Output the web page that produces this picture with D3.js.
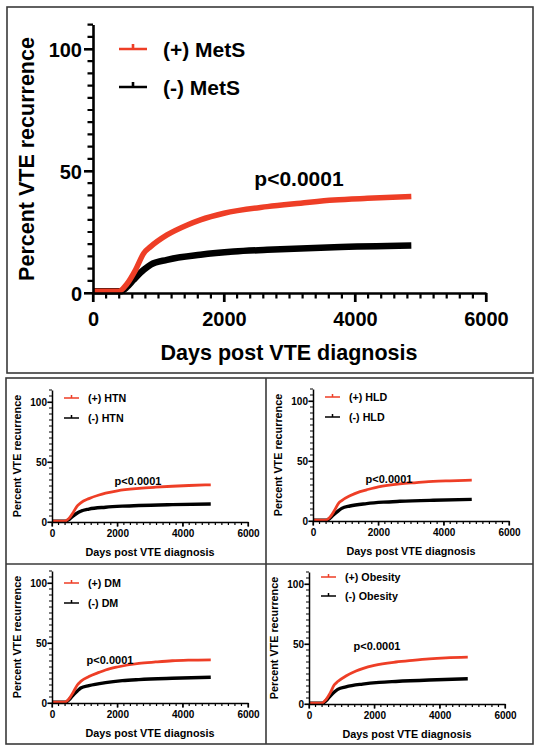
<!DOCTYPE html>
<html><head><meta charset="utf-8">
<script src="https://cdn.jsdelivr.net/npm/d3@7"></script>
<style>body{margin:0;background:#fff} svg{display:block}</style>
</head><body>
<svg id="c" width="540" height="750"></svg>
<script>
// ---------------- DATA ----------------
const xTickValues = [0, 2000, 4000, 6000];
const yTickValues = [0, 50, 100];
const yAxisTitle = "Percent VTE recurrence";
const xAxisTitle = "Days post VTE diagnosis";
const pLabel = "p<0.0001";
const groups = ["MetS", "HTN", "HLD", "DM", "Obesity"];
const legendPos = ["(+) MetS", "(+) HTN", "(+) HLD", "(+) DM", "(+) Obesity"];
const legendNeg = ["(-) MetS", "(-) HTN", "(-) HLD", "(-) DM", "(-) Obesity"];

const daysPos = [0, 390, 520, 650, 775, 880, 1130, 1440, 1640, 2000, 2660, 3170, 3680, 4190, 4860];
const daysNeg = [0, 420, 520, 620, 775, 880, 1130, 1640, 2150, 2660, 3680, 4860];

const posMetS    = [0.7, 0.7, 3.8, 9.5, 16.3, 19.0, 23.8, 27.9, 30.0, 32.7, 35.4, 36.8, 38.1, 38.8, 39.5];
const negMetS    = [0.7, 0.7, 2.5, 5.4, 9.5, 11.6, 13.6, 15.7, 17.0, 17.7, 18.8, 19.5];
const posHTN     = [0.7, 0.7, 3.0, 8.0, 13.5, 16.0, 19.5, 22.5, 24.0, 26.0, 28.0, 29.0, 29.8, 30.4, 31.0];
const negHTN     = [0.7, 0.7, 2.0, 4.5, 7.5, 9.0, 10.8, 12.3, 13.2, 13.8, 14.5, 15.0];
const posHLD     = [0.7, 0.7, 3.2, 8.5, 14.5, 17.0, 21.0, 24.5, 26.0, 28.5, 31.0, 32.0, 33.0, 33.5, 34.0];
const negHLD     = [0.7, 0.7, 2.3, 5.0, 8.5, 10.5, 12.5, 14.5, 15.7, 16.4, 17.3, 18.0];
const posDM      = [0.7, 0.7, 3.4, 9.0, 15.0, 18.0, 22.0, 25.5, 27.5, 30.0, 33.0, 34.2, 35.2, 35.7, 36.0];
const negDM      = [0.7, 0.7, 2.6, 5.8, 10.0, 12.5, 14.5, 17.0, 18.6, 19.5, 20.6, 21.5];
const posObesity = [0.7, 0.7, 3.7, 9.3, 16.0, 18.7, 23.3, 27.5, 29.5, 32.2, 35.0, 36.4, 37.6, 38.4, 39.0];
const negObesity = [0.7, 0.7, 2.6, 5.8, 10.0, 12.2, 14.3, 16.6, 18.0, 18.8, 20.0, 21.0];

const posSeries = [posMetS, posHTN, posHLD, posDM, posObesity];
const negSeries = [negMetS, negHTN, negHLD, negDM, negObesity];

// ---------------- LAYOUT ----------------
const RED = "#ee3e26";
const FONT = "'Liberation Sans', Arial, Helvetica, sans-serif";

const big = {ox: 93, ex: 486, oy: 293, k: 2.44, tick: 20, title: 21.5, leg: 21, p: 21,
  axisW: 2.6, majT: 9, minT: 5.5, tickW: 2.2, posW: 5.5, negW: 6.5,
  ytX: 27, ytY: 159, xtX: 289, xtY: 353, xlabY: 319, ylabGap: 11,
  legX1: 119, legX2: 147, legTX: 163, legY1: 49, legY2: 87, tickUp: 5,
  pX: 299, pY: 178};

function small(dx, dy, extra) {
  return Object.assign({ox: 52 + dx, ex: 248 + dx, oy: 522 + dy, k: 1.2, tick: 10, title: 10.8, leg: 10.7, p: 11,
    axisW: 1.5, majT: 4.5, minT: 3, tickW: 1.2, posW: 2.8, negW: 3.4,
    ytX: 17 + dx, ytY: 456 + dy, xtX: 150 + dx, xtY: 552 + dy, xlabY: 533 + dy, ylabGap: 5,
    legX1: 64 + dx, legX2: 79 + dx, legTX: 88 + dx, legY1: 398 + dy, legY2: 418 + dy, tickUp: 3,
    pX: 138 + dx, pY: 481 + dy}, extra || {});
}

const layouts = [
  big,
  small(0, 0),
  small(261, -1, {pX: 389, pY: 479}),
  small(0, 181, {pX: 110, pY: 660, legY1: 583, legY2: 603}),
  small(257, 182, {pX: 377, pY: 646, legY1: 577, legY2: 596})
];

const svg = d3.select("#c");
svg.append("rect").attr("width", 540).attr("height", 750).attr("fill", "#fff");

// frames
const frame = svg.append("g").attr("fill", "none").attr("stroke", "#3a3a3a").attr("stroke-width", 1.6);
frame.append("rect").attr("x", 7).attr("y", 7).attr("width", 526).attr("height", 366);
frame.append("rect").attr("x", 6).attr("y", 378).attr("width", 527).attr("height", 366);
frame.append("line").attr("x1", 266).attr("x2", 266).attr("y1", 378).attr("y2", 744);
frame.append("line").attr("x1", 6).attr("x2", 533).attr("y1", 564).attr("y2", 564);

const xMinor = d3.range(0, 6001, 200).filter(v => !xTickValues.includes(v));
const yMinor = d3.range(0, 111, 5).filter(v => !yTickValues.includes(v));

groups.forEach((grp, i) => {
  const L = layouts[i];
  const g = svg.append("g");
  const x = d3.scaleLinear().domain([0, 6000]).range([L.ox, L.ex]);
  const y = d3.scaleLinear().domain([0, 110]).range([L.oy, L.oy - 110 * L.k]);

  // titles
  g.append("text").attr("font-family", FONT).attr("font-weight", "bold").attr("font-size", L.title)
    .attr("text-anchor", "middle").attr("dominant-baseline", "central")
    .attr("transform", `translate(${L.ytX},${L.ytY}) rotate(-90)`).text(yAxisTitle);
  g.append("text").attr("font-family", FONT).attr("font-weight", "bold").attr("font-size", L.title)
    .attr("text-anchor", "middle").attr("dominant-baseline", "central")
    .attr("x", L.xtX).attr("y", L.xtY).text(xAxisTitle);

  // curves
  const lineGen = d3.line().x(d => x(d[0])).y(d => y(d[1])).curve(d3.curveMonotoneX);
  const negData = daysNeg.map((dd, j) => [dd, negSeries[i][j]]);
  const posData = daysPos.map((dd, j) => [dd, posSeries[i][j]]);
  g.append("path").datum(negData).attr("d", lineGen).attr("fill", "none").attr("stroke", "#000")
    .attr("stroke-width", L.negW).attr("stroke-linejoin", "round");
  g.append("path").datum(posData).attr("d", lineGen).attr("fill", "none").attr("stroke", RED)
    .attr("stroke-width", L.posW).attr("stroke-linejoin", "round");

  // major axes (labels + domain)
  const xa = g.append("g").attr("transform", `translate(0,${L.oy})`)
    .call(d3.axisBottom(x).tickValues(xTickValues).tickFormat(d3.format("d"))
      .tickSize(L.majT).tickSizeOuter(0).tickPadding(3));
  const ya = g.append("g").attr("transform", `translate(${L.ox},0)`)
    .call(d3.axisLeft(y).tickValues(yTickValues).tickFormat(d3.format("d"))
      .tickSize(L.majT).tickSizeOuter(0).tickPadding(L.ylabGap - L.majT));
  [xa, ya].forEach(a => {
    a.select(".domain").attr("stroke", "#000").attr("stroke-width", L.axisW);
    a.selectAll("line").attr("stroke", "#000").attr("stroke-width", L.tickW);
    a.selectAll("text").attr("font-family", FONT).attr("font-weight", "bold")
      .attr("font-size", L.tick).attr("fill", "#000");
  });
  xa.selectAll("text").attr("dy", null).attr("y", L.xlabY - L.oy).attr("dominant-baseline", "central");
  ya.selectAll("text").attr("dy", "0.35em");

  // all ticks as one path per axis
  const tp = d3.path();
  xMinor.forEach(v => { tp.moveTo(x(v), L.oy); tp.lineTo(x(v), L.oy + L.minT); });
  xTickValues.forEach(v => { tp.moveTo(x(v), L.oy); tp.lineTo(x(v), L.oy + L.majT); });
  yMinor.forEach(v => { tp.moveTo(L.ox, y(v)); tp.lineTo(L.ox - L.minT, y(v)); });
  yTickValues.forEach(v => { tp.moveTo(L.ox, y(v)); tp.lineTo(L.ox - L.majT, y(v)); });
  g.append("path").attr("d", tp.toString()).attr("fill", "none")
    .attr("stroke", "#000").attr("stroke-width", L.tickW);

  // legend
  [[RED, legendPos[i], L.legY1], ["#000", legendNeg[i], L.legY2]].forEach(([col, lab, ly]) => {
    const lw = i === 0 ? 2.6 : 1.5;
    const mx = (L.legX1 + L.legX2) / 2;
    const lp = d3.path();
    lp.moveTo(L.legX1, ly); lp.lineTo(L.legX2, ly);
    lp.moveTo(mx, ly); lp.lineTo(mx, ly - L.tickUp);
    g.append("path").attr("d", lp.toString()).attr("fill", "none")
      .attr("stroke", col).attr("stroke-width", lw);
    g.append("text").attr("x", L.legTX).attr("y", ly).attr("dominant-baseline", "central")
      .attr("font-family", FONT).attr("font-weight", "bold").attr("font-size", L.leg).text(lab);
  });

  // p value
  g.append("text").attr("x", L.pX).attr("y", L.pY).attr("text-anchor", "middle").attr("dominant-baseline", "central")
    .attr("font-family", FONT).attr("font-weight", "bold").attr("font-size", L.p).text(pLabel);
});
</script>
</body></html>
